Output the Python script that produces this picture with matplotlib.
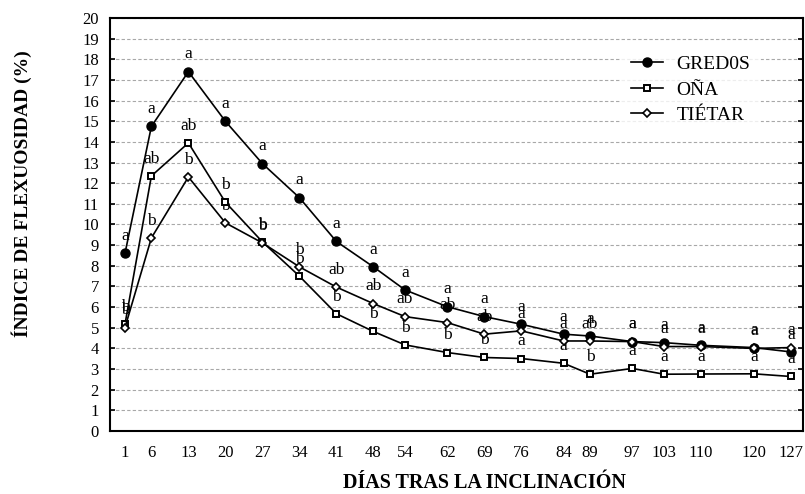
import matplotlib.pyplot as plt

plt.rcParams['font.family'] = ['Liberation Serif', 'DejaVu Serif']

dias = [1, 6, 13, 20, 27, 34, 41, 48, 54, 62, 69, 76, 84, 89, 97, 103, 110, 120, 127]

gredos = [8.6, 14.75, 17.4, 15.0, 12.95, 11.3, 9.18, 7.95, 6.83, 6.02, 5.54, 5.17,
          4.69, 4.6, 4.33, 4.28, 4.15, 4.04, 3.83]
ona = [5.17, 12.35, 13.95, 11.08, 9.16, 7.5, 5.68, 4.82, 4.17, 3.8, 3.56, 3.51,
       3.28, 2.75, 3.03, 2.75, 2.76, 2.77, 2.64]
tietar = [5.01, 9.35, 12.3, 10.08, 9.11, 7.95, 6.97, 6.17, 5.54, 5.25, 4.69, 4.85,
          4.36, 4.36, 4.33, 4.09, 4.09, 4.0, 4.04]

gredos_letras = ['a'] * 19
ona_letras = ['b', 'ab', 'ab', 'b', 'b', 'b', 'b', 'b', 'b', 'b', 'b', 'a',
              'a', 'b', 'a', 'a', 'a', 'a', 'a']
tietar_letras = ['b', 'b', 'b', 'b', 'b', 'b', 'ab', 'ab', 'ab', 'ab', 'ab', 'a',
                 'a', 'ab', 'a', 'a', 'a', 'a', 'a']

fig = plt.figure(figsize=(8.05, 4.94), dpi=100)
ax = fig.add_axes([0.1366, 0.1275, 0.8609, 0.8361])

ax.yaxis.grid(True, linestyle=(0, (3, 2)), linewidth=0.8, color='#a8a8a8')
ax.set_axisbelow(True)

ax.plot(dias, gredos, color='k', lw=1.2, marker='o', ms=6.5, mfc='k', mec='k', label='GRED0S', zorder=3)
ax.plot(dias, ona, color='k', lw=1.2, marker='s', ms=4.5, mfc='white', mec='k', mew=1.4, label='OÑA', zorder=3)
ax.plot(dias, tietar, color='k', lw=1.2, marker='D', ms=4.2, mfc='white', mec='k', mew=1.2, label='TIÉTAR', zorder=3)

for serie, letras in [(gredos, gredos_letras), (ona, ona_letras), (tietar, tietar_letras)]:
    for x, y, t in zip(dias, serie, letras):
        ax.annotate(t, (x, y), xytext=(0, 9.5), textcoords='offset points',
                    ha='center', va='baseline', fontsize=12.5, zorder=2)

ax.set_xlim(-1.84, 129.3)
ax.set_ylim(0, 20)
ax.set_xticks(dias)
ax.set_yticks(range(0, 21))
ax.tick_params(axis='x', length=0, pad=10, labelsize=12)
ax.tick_params(axis='y', direction='in', length=3.5, width=1.2, left=True, right=True,
               pad=8, labelsize=12)
for s in ax.spines.values():
    s.set_linewidth(1.5)

ax.set_xlabel('DÍAS TRAS LA INCLINACIÓN', fontsize=14.5, fontweight='bold', va='baseline')
ax.xaxis.set_label_coords(0.541, -0.138)
ax.set_ylabel('ÍNDICE DE FLEXUOSIDAD (%)', fontsize=14, fontweight='bold', va='center')
ax.yaxis.set_label_coords(-0.127, 0.574)

leg = ax.legend(loc='upper left', bbox_to_anchor=(0.736, 0.935), borderaxespad=0,
                fontsize=14, frameon=True, fancybox=False, edgecolor='white',
                borderpad=0.55, handlelength=1.65, handletextpad=0.7, labelspacing=0.4)
leg.get_frame().set_linewidth(0)

fig.savefig('out.png', dpi=100)
